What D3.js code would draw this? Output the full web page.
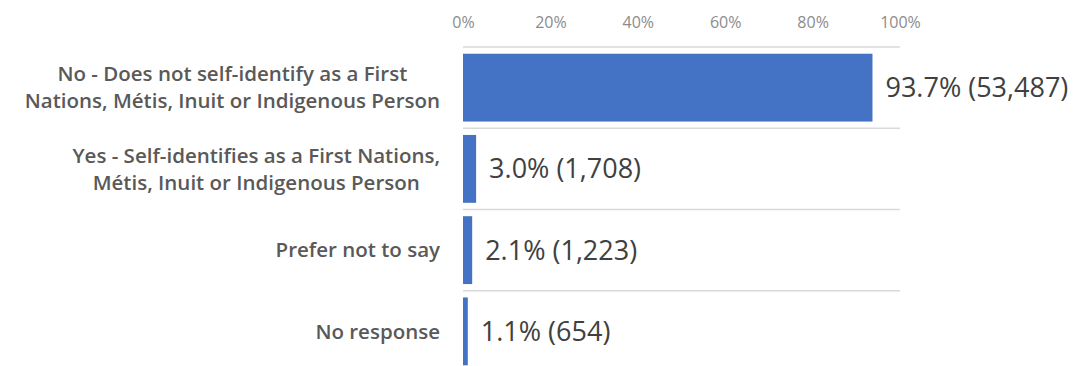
<!DOCTYPE html>
<html lang="en">
<head>
<meta charset="UTF-8">
<script src="https://d3js.org/d3.v7.min.js"></script>
<style>
  body { margin: 0; background: #fff; }
  svg text { font-family: "Open Sans", "Noto Sans", sans-serif; }
</style>
</head>
<body>
<svg id="svg" width="1083" height="366"></svg>
<script>
// data
var categories = [
  ["No - Does not self-identify as a First", "Nations, Métis, Inuit or Indigenous Person"],
  ["Yes - Self-identifies as a First Nations,", "Métis, Inuit or Indigenous Person"],
  ["Prefer not to say"],
  ["No response"]
];
var shares = [0.937, 0.030, 0.021, 0.011];
var counts = [53487, 1708, 1223, 654];
var tickValues = [0, 0.2, 0.4, 0.6, 0.8, 1.0];

var svg = d3.select("#svg");

var x = d3.scaleLinear().domain([0, 1]).range([463, 900]);
var y = d3.scaleBand()
  .domain(d3.range(categories.length))
  .range([47, 372])
  .paddingInner(0.165)
  .paddingOuter(0.0825);

// horizontal row separators
var step = y.step();
svg.append("g")
  .selectAll("line")
  .data(d3.range(categories.length))
  .enter()
  .append("line")
  .attr("x1", x(0))
  .attr("x2", x(1))
  .attr("y1", (d) => 47 + d * step)
  .attr("y2", (d) => 47 + d * step)
  .attr("stroke", "#d9d9d9")
  .attr("stroke-width", 1.5);

// top axis
var axis = d3.axisTop(x)
  .tickValues(tickValues)
  .tickFormat(d3.format(".0%"))
  .tickSize(0)
  .tickPadding(0);

var gAxis = svg.append("g")
  .attr("transform", "translate(0, 28)")
  .call(axis);
gAxis.select(".domain").remove();
gAxis.selectAll("text")
  .attr("fill", "#8c8c8c")
  .attr("font-family", "\"Open Sans\", sans-serif")
  .attr("font-size", "16px");

// bars
svg.append("g")
  .selectAll("rect")
  .data(shares)
  .enter()
  .append("rect")
  .attr("x", x(0))
  .attr("y", (d, i) => y(i))
  .attr("width", (d) => x(d) - x(0))
  .attr("height", y.bandwidth())
  .attr("fill", "#4472c4");

// value labels
var fmtPct = d3.format(".1%");
var fmtNum = d3.format(",");
svg.append("g")
  .selectAll("text")
  .data(shares)
  .enter()
  .append("text")
  .attr("x", (d) => x(d) + 13)
  .attr("y", (d, i) => y(i) + y.bandwidth() / 2)
  .attr("dy", "0.35em")
  .attr("font-size", "27px")
  .attr("fill", "#404040")
  .text((d, i) => fmtPct(d) + " (" + fmtNum(counts[i]) + ")");

// category labels: block right-aligned, lines centred within block
var labelRight = 440;
var lineH = 27;
categories.forEach(function (lines, i) {
  var g = svg.append("g");
  var cy = y(i) + y.bandwidth() / 2;
  var texts = g.selectAll("text")
    .data(lines)
    .enter()
    .append("text")
    .attr("font-size", "20.5px")
    .attr("font-weight", 600)
    .attr("fill", "#595959")
    .attr("text-anchor", "middle")
    .attr("y", (d, j) => cy + (j - (lines.length - 1) / 2) * lineH)
    .attr("dy", "0.35em")
    .text((d) => d);
  var maxW = d3.max(texts.nodes(), (n) => n.getComputedTextLength());
  texts.attr("x", labelRight - maxW / 2);
});
</script>
</body>
</html>
